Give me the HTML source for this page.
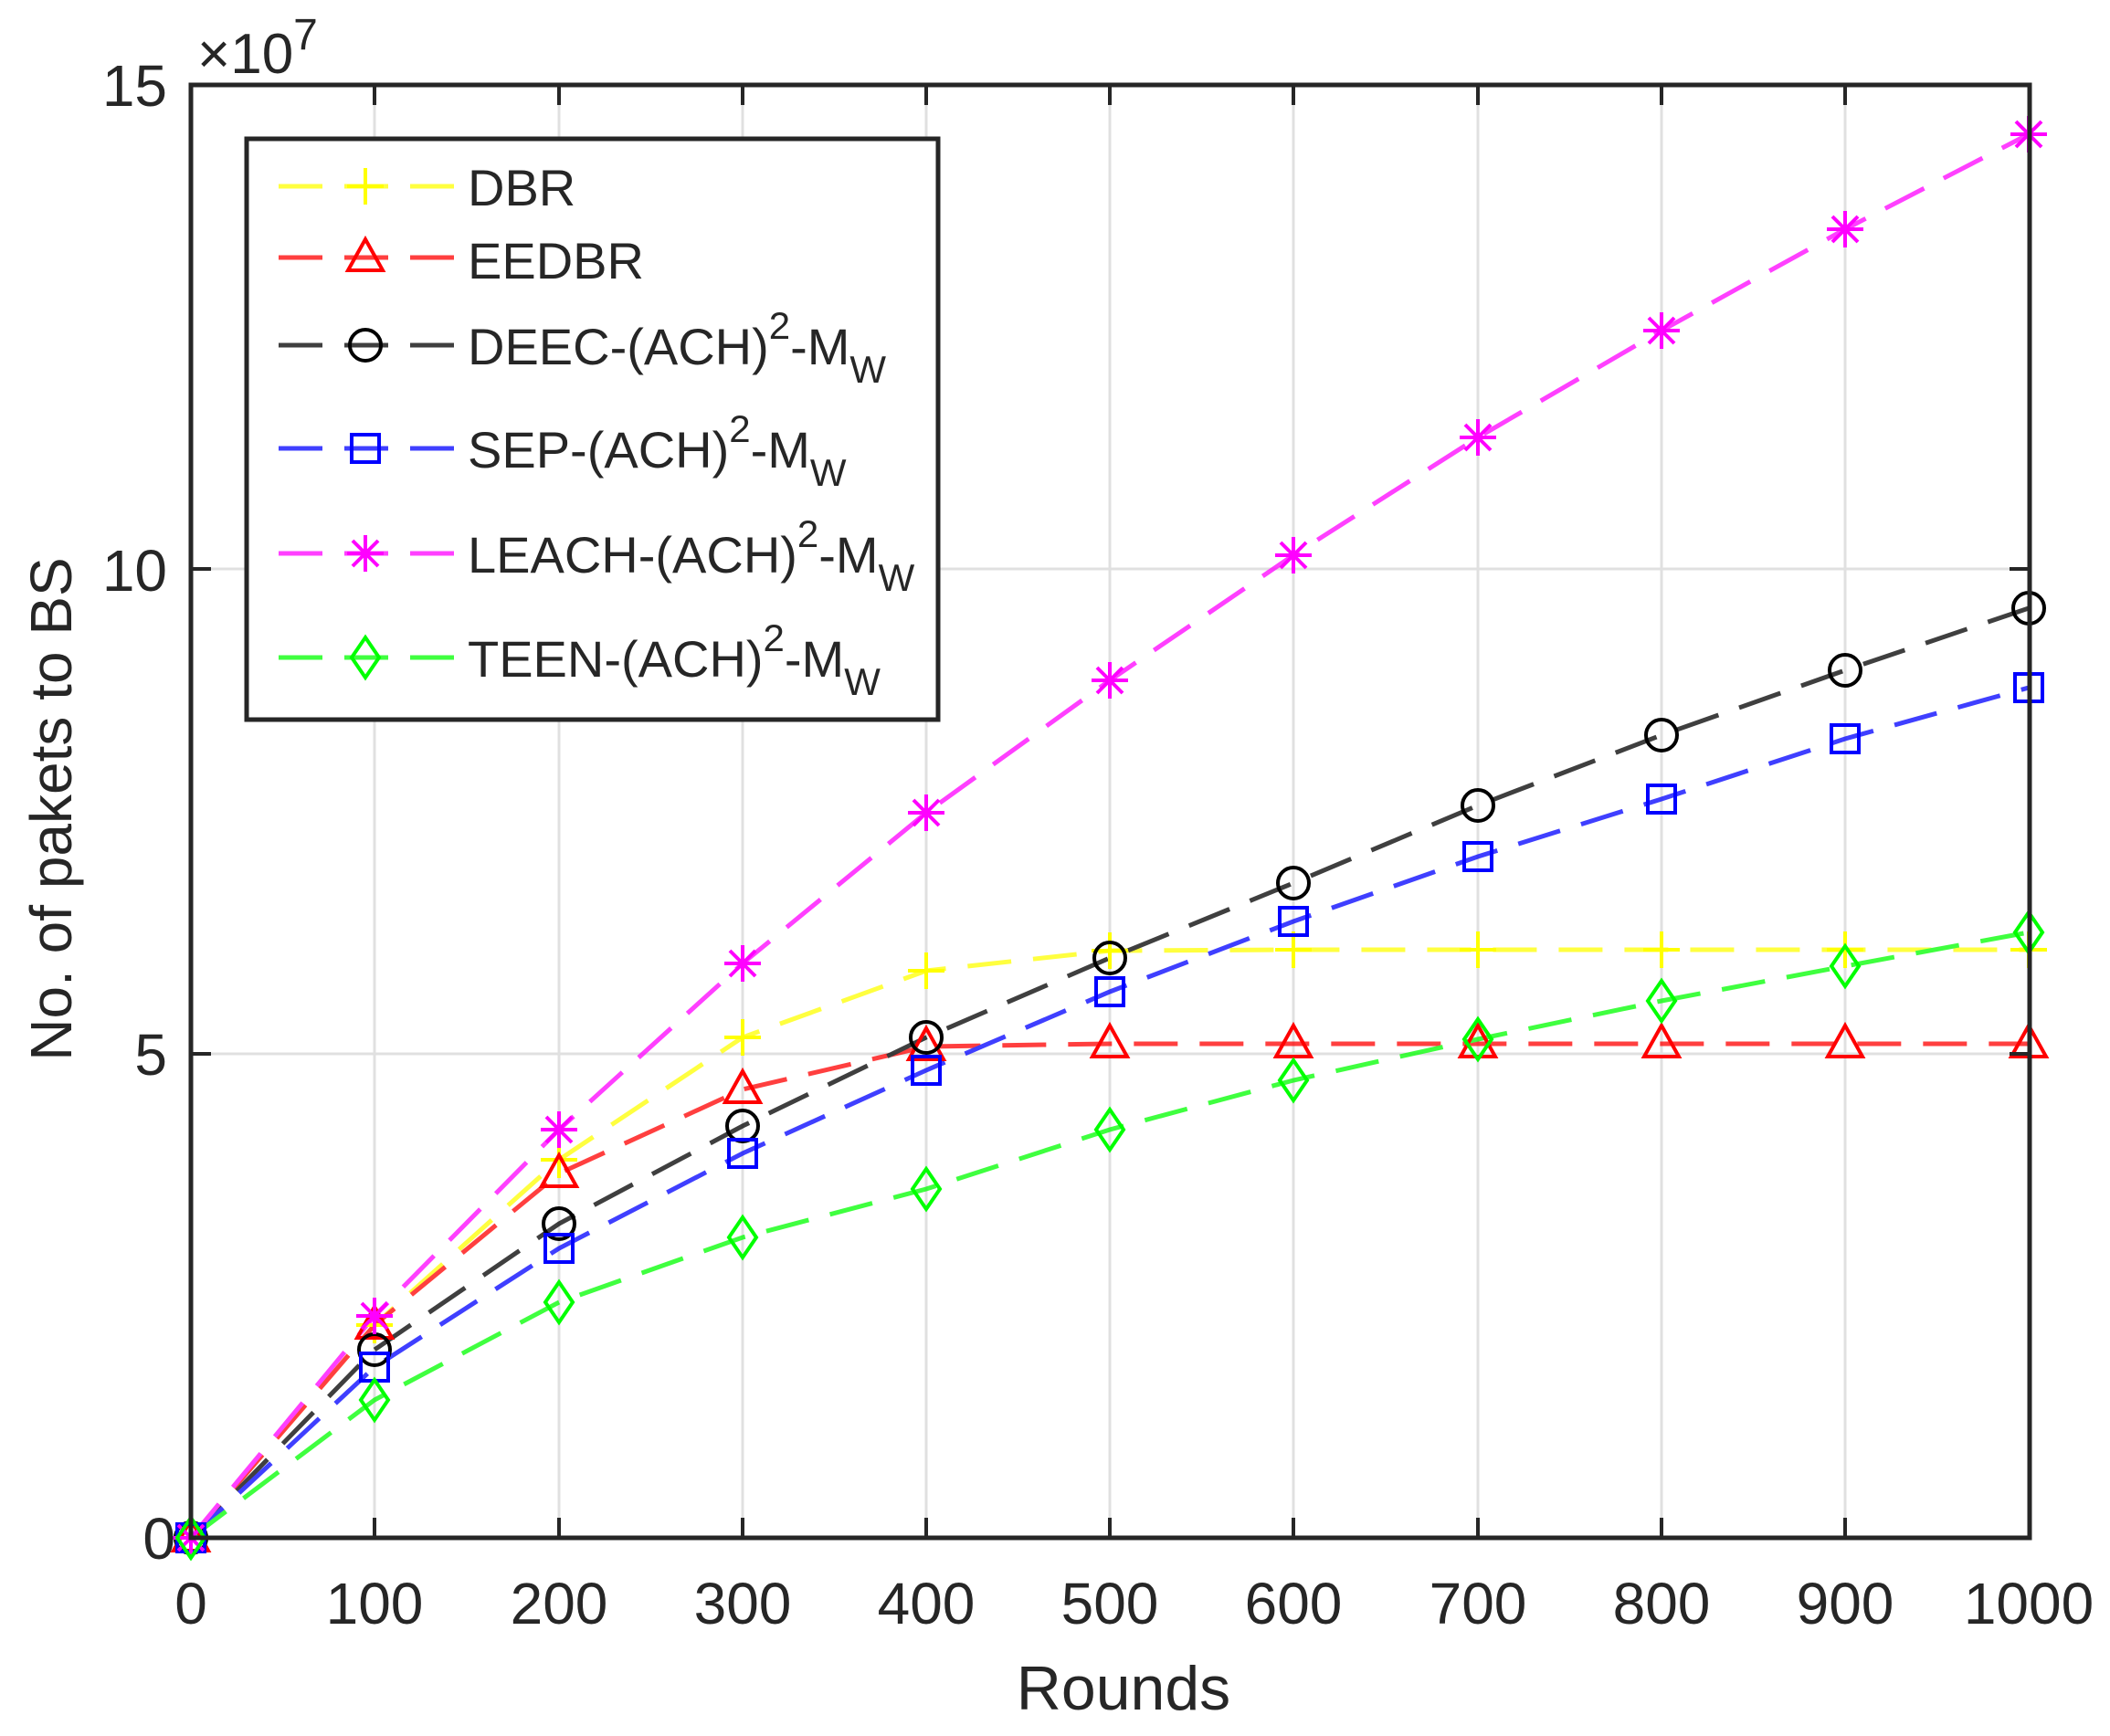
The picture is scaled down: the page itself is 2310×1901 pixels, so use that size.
<!DOCTYPE html>
<html><head><meta charset="utf-8"><style>
html,body{margin:0;padding:0;background:#fff;width:2310px;height:1901px;overflow:hidden}
svg{display:block}
text{font-family:"Liberation Sans",Arial,sans-serif;fill:#262626}
</style></head><body>
<svg width="2310" height="1901" viewBox="0 0 2310 1901" xmlns="http://www.w3.org/2000/svg">
<defs>
<g id="mplus"><path d="M-20 0H20M0 -20V20" stroke="#ffff00" stroke-width="4" fill="none"/></g>
<g id="mtri"><path d="M0 -20L19 14H-19Z" stroke="#ff0000" stroke-width="4" fill="none"/></g>
<g id="mcirc"><circle r="17" stroke="#000" stroke-width="4" fill="none"/></g>
<g id="msq"><rect x="-15" y="-15" width="30" height="30" stroke="#0000ff" stroke-width="4" fill="none"/></g>
<g id="mstar"><path d="M-20 0H20M0 -20V20M-14 -14L14 14M-14 14L14 -14" stroke="#ff00ff" stroke-width="4" fill="none"/></g>
<g id="mdia"><path d="M0 -22L15 0L0 22L-15 0Z" stroke="#00ff00" stroke-width="4" fill="none"/></g>
</defs>
<rect x="209" y="93" width="2013" height="1591" fill="#fff"/>
<g stroke="#e0e0e0" stroke-width="3">
<line x1="410" y1="93" x2="410" y2="1684"/><line x1="612" y1="93" x2="612" y2="1684"/>
<line x1="813" y1="93" x2="813" y2="1684"/><line x1="1014" y1="93" x2="1014" y2="1684"/>
<line x1="1215" y1="93" x2="1215" y2="1684"/><line x1="1416" y1="93" x2="1416" y2="1684"/>
<line x1="1618" y1="93" x2="1618" y2="1684"/><line x1="1819" y1="93" x2="1819" y2="1684"/>
<line x1="2020" y1="93" x2="2020" y2="1684"/>
<line x1="209" y1="623" x2="2222" y2="623"/><line x1="209" y1="1154" x2="2222" y2="1154"/>
</g>
<g fill="none" stroke-width="5" stroke-dasharray="48 24" opacity="0.75">
<polyline stroke="#ffff00" points="209,1684 410,1451 612,1270 813,1136 1014,1063 1215,1041 1416,1040 1618,1040 1819,1040 2020,1040 2221,1040"/>
<polyline stroke="#ff0000" points="209,1684 410,1451 612,1285 813,1193 1014,1146 1215,1143 1416,1143 1618,1143 1819,1143 2020,1143 2221,1143"/>
<polyline stroke="#000000" points="209,1684 410,1478 612,1340 813,1233 1014,1136 1215,1049 1416,967 1618,882 1819,805 2020,734 2221,666"/>
<polyline stroke="#0000ff" points="209,1684 410,1497 612,1367 813,1263 1014,1172 1215,1086 1416,1009 1618,938 1819,875 2020,809 2221,753"/>
<polyline stroke="#ff00ff" points="209,1684 410,1441 612,1237 813,1055 1014,890 1215,745 1416,608 1618,479 1819,362 2020,251 2221,147"/>
<polyline stroke="#00ff00" points="209,1684 410,1533 612,1426 813,1355 1014,1302 1215,1237 1416,1183 1618,1138 1819,1096 2020,1058 2221,1021"/>
</g>
<g>
<use href="#mplus" x="209" y="1684"/><use href="#mplus" x="410" y="1451"/><use href="#mplus" x="612" y="1270"/><use href="#mplus" x="813" y="1136"/><use href="#mplus" x="1014" y="1063"/><use href="#mplus" x="1215" y="1041"/><use href="#mplus" x="1416" y="1040"/><use href="#mplus" x="1618" y="1040"/><use href="#mplus" x="1819" y="1040"/><use href="#mplus" x="2020" y="1040"/><use href="#mplus" x="2221" y="1040"/>
<use href="#mtri" x="209" y="1684"/><use href="#mtri" x="410" y="1451"/><use href="#mtri" x="612" y="1285"/><use href="#mtri" x="813" y="1193"/><use href="#mtri" x="1014" y="1146"/><use href="#mtri" x="1215" y="1143"/><use href="#mtri" x="1416" y="1143"/><use href="#mtri" x="1618" y="1143"/><use href="#mtri" x="1819" y="1143"/><use href="#mtri" x="2020" y="1143"/><use href="#mtri" x="2221" y="1143"/>
<use href="#mcirc" x="209" y="1684"/><use href="#mcirc" x="410" y="1478"/><use href="#mcirc" x="612" y="1340"/><use href="#mcirc" x="813" y="1233"/><use href="#mcirc" x="1014" y="1136"/><use href="#mcirc" x="1215" y="1049"/><use href="#mcirc" x="1416" y="967"/><use href="#mcirc" x="1618" y="882"/><use href="#mcirc" x="1819" y="805"/><use href="#mcirc" x="2020" y="734"/><use href="#mcirc" x="2221" y="666"/>
<use href="#msq" x="209" y="1684"/><use href="#msq" x="410" y="1497"/><use href="#msq" x="612" y="1367"/><use href="#msq" x="813" y="1263"/><use href="#msq" x="1014" y="1172"/><use href="#msq" x="1215" y="1086"/><use href="#msq" x="1416" y="1009"/><use href="#msq" x="1618" y="938"/><use href="#msq" x="1819" y="875"/><use href="#msq" x="2020" y="809"/><use href="#msq" x="2221" y="753"/>
<use href="#mstar" x="209" y="1684"/><use href="#mstar" x="410" y="1441"/><use href="#mstar" x="612" y="1237"/><use href="#mstar" x="813" y="1055"/><use href="#mstar" x="1014" y="890"/><use href="#mstar" x="1215" y="745"/><use href="#mstar" x="1416" y="608"/><use href="#mstar" x="1618" y="479"/><use href="#mstar" x="1819" y="362"/><use href="#mstar" x="2020" y="251"/><use href="#mstar" x="2221" y="147"/>
<use href="#mdia" x="209" y="1684"/><use href="#mdia" x="410" y="1533"/><use href="#mdia" x="612" y="1426"/><use href="#mdia" x="813" y="1355"/><use href="#mdia" x="1014" y="1302"/><use href="#mdia" x="1215" y="1237"/><use href="#mdia" x="1416" y="1183"/><use href="#mdia" x="1618" y="1138"/><use href="#mdia" x="1819" y="1096"/><use href="#mdia" x="2020" y="1058"/><use href="#mdia" x="2221" y="1021"/>
</g>
<rect x="209" y="93" width="2013" height="1591" fill="none" stroke="#262626" stroke-width="5"/>
<g stroke="#262626" stroke-width="4">
<path d="M410 1684v-22M612 1684v-22M813 1684v-22M1014 1684v-22M1215 1684v-22M1416 1684v-22M1618 1684v-22M1819 1684v-22M2020 1684v-22"/>
<path d="M410 93v22M612 93v22M813 93v22M1014 93v22M1215 93v22M1416 93v22M1618 93v22M1819 93v22M2020 93v22"/>
<path d="M209 623h22M209 1154h22M2222 623h-22M2222 1154h-22"/>
</g>
<g font-size="64" text-anchor="middle">
<text x="209" y="1778">0</text><text x="410" y="1778">100</text><text x="612" y="1778">200</text><text x="813" y="1778">300</text><text x="1014" y="1778">400</text><text x="1215" y="1778">500</text><text x="1416" y="1778">600</text><text x="1618" y="1778">700</text><text x="1819" y="1778">800</text><text x="2020" y="1778">900</text><text x="2221" y="1778">1000</text>
</g>
<g font-size="64" text-anchor="end">
<text x="183" y="116">15</text><text x="183" y="647">10</text><text x="183" y="1177">5</text><text x="192" y="1707">0</text>
</g>
<text x="216" y="80" font-size="62">×10<tspan dy="-26" font-size="48">7</tspan></text>
<text x="1230" y="1872" font-size="68" text-anchor="middle">Rounds</text>
<text transform="translate(78,886) rotate(-90)" font-size="64" text-anchor="middle">No. of pakets to BS</text>
<rect x="270" y="152" width="757" height="636" fill="#fff" stroke="#262626" stroke-width="5"/>
<g stroke-width="5" stroke-dasharray="48 24" opacity="0.75">
<line x1="305" y1="204" x2="498" y2="204" stroke="#ffff00"/>
<line x1="305" y1="282" x2="498" y2="282" stroke="#ff0000"/>
<line x1="305" y1="378" x2="498" y2="378" stroke="#000"/>
<line x1="305" y1="491" x2="498" y2="491" stroke="#0000ff"/>
<line x1="305" y1="606" x2="498" y2="606" stroke="#ff00ff"/>
<line x1="305" y1="720" x2="498" y2="720" stroke="#00ff00"/>
</g>
<use href="#mplus" x="400" y="204"/><use href="#mtri" x="400" y="282"/><use href="#mcirc" x="400" y="378"/><use href="#msq" x="400" y="491"/><use href="#mstar" x="400" y="606"/><use href="#mdia" x="400" y="720"/>
<g font-size="56">
<text x="512" y="225">DBR</text>
<text x="512" y="305">EEDBR</text>
<text x="512" y="399">DEEC-(ACH)<tspan dy="-28" font-size="42">2</tspan><tspan dy="28">-M</tspan><tspan dy="20" font-size="42">W</tspan></text>
<text x="512" y="512">SEP-(ACH)<tspan dy="-28" font-size="42">2</tspan><tspan dy="28">-M</tspan><tspan dy="20" font-size="42">W</tspan></text>
<text x="512" y="627">LEACH-(ACH)<tspan dy="-28" font-size="42">2</tspan><tspan dy="28">-M</tspan><tspan dy="20" font-size="42">W</tspan></text>
<text x="512" y="741">TEEN-(ACH)<tspan dy="-28" font-size="42">2</tspan><tspan dy="28">-M</tspan><tspan dy="20" font-size="42">W</tspan></text>
</g>
</svg>
</body></html>
